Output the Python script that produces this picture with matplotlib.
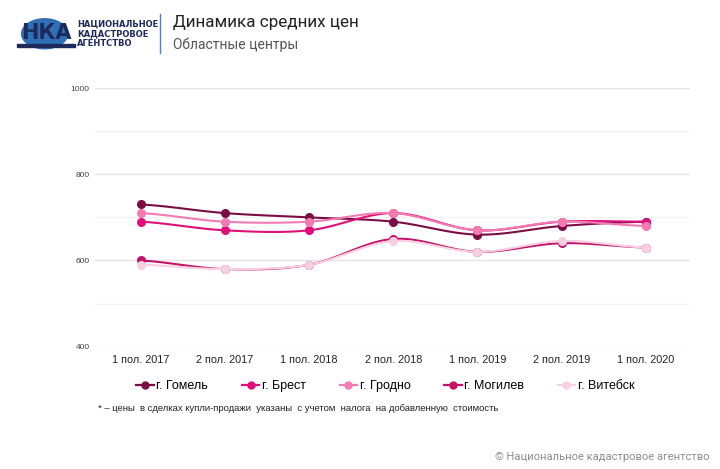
import numpy as np
import matplotlib
matplotlib.use("Agg")
import matplotlib.pyplot as plt
from matplotlib.lines import Line2D
from matplotlib.patches import Circle, Rectangle

periods = ["1 пол. 2017", "2 пол. 2017", "1 пол. 2018", "2 пол. 2018",
           "1 пол. 2019", "2 пол. 2019", "1 пол. 2020"]
gomel = [730, 710, 700, 690, 660, 680, 690]
brest = [690, 670, 670, 710, 670, 690, 690]
grodno = [710, 690, 690, 710, 670, 690, 680]
mogilev = [600, 580, 590, 650, 620, 640, 630]
vitebsk = [590, 580, 590, 645, 620, 645, 630]

names = ["г. Гомель", "г. Брест", "г. Гродно", "г. Могилев", "г. Витебск"]
series = [gomel, brest, grodno, mogilev, vitebsk]
colors = ["#7b0d45", "#e0107a", "#f47ab3", "#c4126a", "#f9cfe1"]


def smooth(x, y, n=20):
    # catmull-rom through the points, just for drawing
    x = np.asarray(x, float)
    y = np.asarray(y, float)
    px = np.concatenate([[2 * x[0] - x[1]], x, [2 * x[-1] - x[-2]]])
    py = np.concatenate([[y[0]], y, [y[-1]]])
    xs, ys = [], []
    t = np.linspace(0, 1, n)
    for i in range(1, len(px) - 2):
        for arr, out in ((px, xs), (py, ys)):
            p0, p1, p2, p3 = arr[i - 1], arr[i], arr[i + 1], arr[i + 2]
            m1 = (p2 - p0) / 2
            m2 = (p3 - p1) / 2
            h00 = 2 * t**3 - 3 * t**2 + 1
            h10 = t**3 - 2 * t**2 + t
            h01 = -2 * t**3 + 3 * t**2
            h11 = t**3 - t**2
            out.extend(h00 * p1 + h10 * m1 + h01 * p2 + h11 * m2)
    return np.array(xs), np.array(ys)


fig = plt.figure(figsize=(7.2, 4.69), dpi=100)
ax = fig.add_axes([0.132, 0.261, 0.826, 0.551])

x = np.arange(len(periods))
# draw lightest first so darker lines stay on top
for i in [4, 2, 0, 3, 1]:
    sx, sy = smooth(x, series[i])
    ax.plot(sx, sy, color=colors[i], lw=1.5, zorder=3 + i * 0.1)
    ax.plot(x, series[i], 'o', color=colors[i], ms=5.5, zorder=4 + i * 0.1)

ax.set_xlim(-0.54, 6.52)
ax.set_ylim(400, 1000)
ax.set_yticks([400, 600, 800, 1000])
ax.set_yticks([500, 700, 900], minor=True)
ax.grid(axis='y', which='major', color='#e3e3e3', lw=1)
ax.grid(axis='y', which='minor', color='#f3f3f3', lw=1)
ax.tick_params(axis='y', which='both', length=0, labelsize=6, labelcolor='#444444', pad=4)
ax.set_xticks(x)
ax.set_xticklabels(periods, fontsize=7.8, color='#222222', family='Liberation Sans')
ax.tick_params(axis='x', length=0, pad=6)
for lab in ax.get_yticklabels():
    lab.set_family('Liberation Sans')
for s in ax.spines.values():
    s.set_visible(False)

handles = [Line2D([0], [0], color=c, lw=1.6, marker='o', ms=5) for c in colors]
fig.legend(handles, names, loc='center', bbox_to_anchor=(0.535, 0.177), ncol=5,
           frameon=False, handlelength=1.4, handletextpad=0.2, columnspacing=2.7,
           prop={'family': 'Liberation Sans', 'size': 9})

fig.text(0.136, 0.128, "* – цены  в сделках купли-продажи  указаны  с учетом  налога  на добавленную  стоимость",
         fontsize=6.8, color='#222222', family='Liberation Sans', va='center')
fig.text(0.986, 0.026, "© Национальное кадастровое агентство", ha='right', va='center',
         fontsize=8, color='#8c8c8c', family='Roboto')

# header
fig.text(0.240, 0.952, "Динамика средних цен", fontsize=12.3, color='#222222',
         family='Roboto', va='center')
fig.text(0.240, 0.904, "Областные центры", fontsize=10, color='#555555',
         family='Roboto', va='center')
fig.add_artist(Line2D([0.222, 0.222], [0.888, 0.970], color='#5b7fb5', lw=1,
                      transform=fig.transFigure))

# rough logo
fig.add_artist(Circle((0.062, 0.928), 0.032, transform=fig.transFigure,
                      color='#2f6fb8', zorder=1))
fig.add_artist(Rectangle((0.024, 0.900), 0.080, 0.006, transform=fig.transFigure,
                         color='#1d2a5c', zorder=2))
fig.text(0.064, 0.930, "НКА", fontsize=15, fontweight='bold', color='#1d2a5c',
         family='DejaVu Sans', ha='center', va='center', zorder=3)
fig.text(0.107, 0.928, "НАЦИОНАЛЬНОЕ\nКАДАСТРОВОЕ\nАГЕНТСТВО", fontsize=6,
         fontweight='bold', color='#1d2a5c', family='Liberation Sans Narrow',
         va='center', linespacing=1.1)

fig.savefig("out.png", dpi=100)
